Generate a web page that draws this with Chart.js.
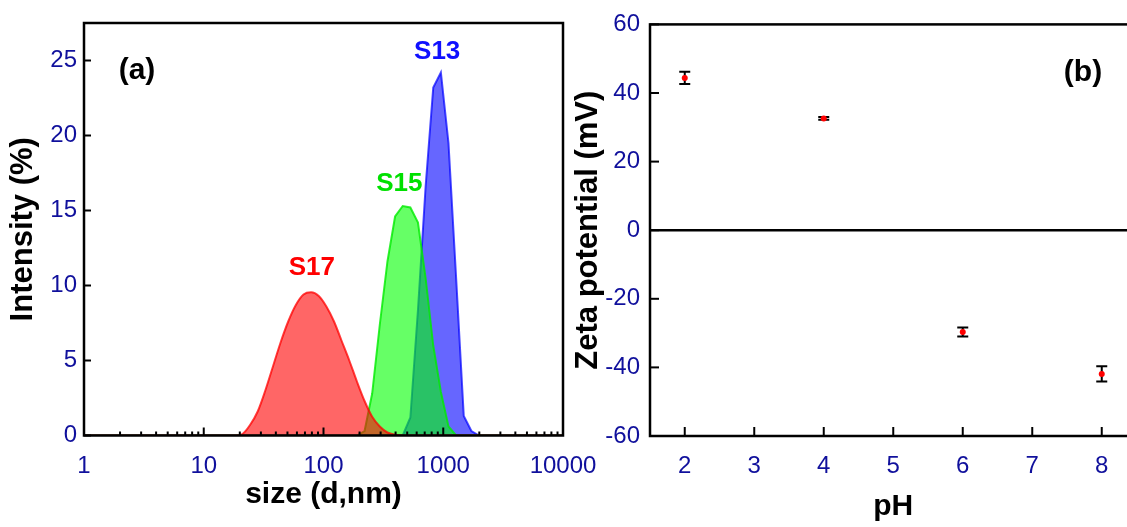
<!DOCTYPE html>
<html>
<head>
<meta charset="utf-8">
<script src="https://cdn.jsdelivr.net/npm/chart.js@4.4.0/dist/chart.umd.min.js"></script>
<style>
html, body { margin:0; padding:0; background:#fff; overflow:hidden; }
#wrap { position:relative; width:1127px; height:527px; overflow:hidden; background:#fff; }
#chartTamanho { position:absolute; left:0; top:0; }
#chartZeta { position:absolute; left:560px; top:0; }
</style>
</head>
<body>
<div id="wrap">
<canvas id="chartTamanho" width="613" height="527"></canvas>
<canvas id="chartZeta" width="590" height="527"></canvas>
</div>
<script>
// (a) tamanho (DLS, intensidade)
var s17Size = [1, 18.17, 21.04, 24.36, 28.21, 32.67, 37.84, 43.82, 50.75, 58.77, 68.06, 78.82, 91.28, 105.7, 122.4, 141.8, 164.2, 190.1, 220.2, 255.0, 295.3, 342.0, 396.1, 458.7, 10000];
var s17Int  = [0, 0, 0.1, 0.7, 1.6, 3.0, 4.6, 6.2, 7.6, 8.7, 9.4, 9.55, 9.3, 8.6, 7.6, 6.3, 5.0, 3.6, 2.3, 1.25, 0.6, 0.2, 0.05, 0, 0];
var s15Size = [1, 190.1, 220.2, 255.0, 295.3, 342.0, 396.1, 458.7, 531.2, 615.1, 712.4, 825.0, 955.4, 1106, 1281, 10000];
var s15Int  = [0, 0, 0.3, 2.8, 7.4, 11.6, 14.6, 15.3, 15.2, 14.2, 10.5, 6.0, 2.9, 0.6, 0, 0];
var s13Size = [1, 458.7, 531.2, 615.1, 712.4, 825.0, 955.4, 1106, 1281, 1484, 1718, 1990, 10000];
var s13Int  = [0, 0, 1.2, 8.4, 16.6, 23.2, 24.2, 19.5, 10.5, 1.3, 0.3, 0, 0];
var sizeTicks = [1, 10, 100, 1000, 10000];
var intTicks = [0, 5, 10, 15, 20, 25];

// (b) potencial zeta
var pH = [2, 4, 6, 8];
var zeta = [44.4, 32.6, -29.7, -41.9];
var zetaErr = [1.8, 0.4, 1.3, 2.2];
var pHTicks = [2, 3, 4, 5, 6, 7, 8];
var zetaTicks = [-60, -40, -20, 0, 20, 40, 60];

var azul = '#10109c';
var fonte = "'Liberation Sans', Arial, sans-serif";
Chart.defaults.font.family = fonte;

function pontos(xs, ys) {
    return xs.map(function (x, i) { return { x: x, y: ys[i] }; });
}

var moldura = {
    id: 'moldura',
    afterDatasetsDraw: function (chart, args, opts) {
        var ctx = chart.ctx, a = chart.chartArea;
        var sx = chart.scales.x, sy = chart.scales.y;
        ctx.save();
        ctx.strokeStyle = '#000';
        ctx.lineWidth = 2;
        (opts.xTicks || []).forEach(function (t) {
            var px = sx.getPixelForValue(t[0]);
            ctx.beginPath(); ctx.moveTo(px, a.bottom); ctx.lineTo(px, a.bottom - t[1]); ctx.stroke();
        });
        (opts.yTicks || []).forEach(function (t) {
            var py = sy.getPixelForValue(t[0]);
            ctx.beginPath(); ctx.moveTo(a.left, py); ctx.lineTo(a.left + t[1], py); ctx.stroke();
        });
        if (opts.zeroLine) {
            var pz = sy.getPixelForValue(0);
            ctx.lineWidth = 2.5;
            ctx.beginPath(); ctx.moveTo(a.left, pz); ctx.lineTo(a.right, pz); ctx.stroke();
        }
        ctx.lineWidth = 2.5;
        ctx.strokeRect(a.left, a.top, a.right - a.left, a.bottom - a.top);
        ctx.restore();
    }
};

var rotulos = {
    id: 'rotulos',
    afterDraw: function (chart, args, opts) {
        var ctx = chart.ctx;
        ctx.save();
        ctx.textAlign = 'center';
        ctx.textBaseline = 'middle';
        (opts.items || []).forEach(function (r) {
            ctx.fillStyle = r.color;
            ctx.font = r.font;
            ctx.fillText(r.text, chart.scales.x.getPixelForValue(r.x), chart.scales.y.getPixelForValue(r.y));
        });
        ctx.restore();
    }
};

var barrasErro = {
    id: 'barrasErro',
    beforeDatasetsDraw: function (chart) {
        var ctx = chart.ctx, sx = chart.scales.x, sy = chart.scales.y;
        ctx.save();
        ctx.strokeStyle = '#000';
        ctx.lineWidth = 2;
        chart.data.datasets.forEach(function (ds) {
            if (!ds.errors) return;
            ds.data.forEach(function (p, i) {
                var px = sx.getPixelForValue(p.x);
                var y1 = sy.getPixelForValue(p.y + ds.errors[i]);
                var y2 = sy.getPixelForValue(p.y - ds.errors[i]);
                ctx.beginPath();
                ctx.moveTo(px, y1); ctx.lineTo(px, y2);
                ctx.moveTo(px - 5.5, y1); ctx.lineTo(px + 5.5, y1);
                ctx.moveTo(px - 5.5, y2); ctx.lineTo(px + 5.5, y2);
                ctx.stroke();
            });
        });
        ctx.restore();
    }
};

// marcas menores do eixo log
var marcasA = [];
[1, 10, 100, 1000].forEach(function (d) {
    for (var k = 2; k <= 9; k++) marcasA.push([d * k, 4]);
    if (d > 1) marcasA.push([d, 8]);
});

new Chart(document.getElementById('chartTamanho'), {
    type: 'line',
    data: {
        datasets: [
            { label: 'S17', data: pontos(s17Size, s17Int), fill: 'origin', backgroundColor: 'rgba(255,0,0,0.6)', borderColor: 'rgba(255,0,0,0.75)', borderWidth: 2, pointRadius: 0, cubicInterpolationMode: 'monotone' },
            { label: 'S15', data: pontos(s15Size, s15Int), fill: 'origin', backgroundColor: 'rgba(0,255,0,0.6)', borderColor: 'rgba(0,235,0,0.8)', borderWidth: 2, pointRadius: 0, tension: 0 },
            { label: 'S13', data: pontos(s13Size, s13Int), fill: 'origin', backgroundColor: 'rgba(0,0,255,0.6)', borderColor: 'rgba(0,0,255,0.7)', borderWidth: 2, pointRadius: 0, tension: 0 }
        ]
    },
    options: {
        responsive: false,
        animation: false,
        layout: { padding: { top: 23, right: 50, left: 0, bottom: 0 } },
        plugins: {
            legend: { display: false },
            tooltip: { enabled: false },
            moldura: { xTicks: marcasA, yTicks: intTicks.map(function (v) { return [v, 7]; }) },
            rotulos: { items: [
                { text: '(a)', x: 2.77, y: 24.3, color: '#000', font: 'bold 30px ' + fonte },
                { text: 'S17', x: 80, y: 11.2, color: '#ff0000', font: 'bold 26px ' + fonte },
                { text: 'S15', x: 430, y: 16.8, color: '#00e000', font: 'bold 26px ' + fonte },
                { text: 'S13', x: 890, y: 25.6, color: '#1010ff', font: 'bold 26px ' + fonte }
            ] }
        },
        scales: {
            x: {
                type: 'logarithmic', min: 1, max: 10000,
                grid: { display: false, drawTicks: false },
                border: { display: false },
                afterBuildTicks: function (s) { s.ticks = sizeTicks.map(function (v) { return { value: v }; }); },
                afterFit: function (s) { s.height = 91.5; },
                ticks: { color: azul, font: { size: 24 }, padding: 16, autoSkip: false, maxRotation: 0,
                    callback: function (v) { return String(v); } },
                title: { display: true, text: 'size (d,nm)', color: '#000', font: { size: 30, weight: 'bold' }, padding: { top: 0, bottom: 14 } }
            },
            y: {
                min: 0, max: 27.5,
                grid: { display: false, drawTicks: false },
                border: { display: false },
                afterBuildTicks: function (s) { s.ticks = intTicks.map(function (v) { return { value: v }; }); },
                afterFit: function (s) { s.width = 84; },
                ticks: { color: azul, font: { size: 24 }, padding: 7 },
                title: { display: true, text: 'Intensity (%)', color: '#000', font: { size: 31, weight: 'bold' }, padding: { top: 5, bottom: 0 } }
            }
        }
    },
    plugins: [moldura, rotulos]
});

new Chart(document.getElementById('chartZeta'), {
    type: 'scatter',
    data: {
        datasets: [
            { label: 'Zeta', data: pontos(pH, zeta), errors: zetaErr, backgroundColor: '#ff0000', borderWidth: 0, pointRadius: 3, showLine: false }
        ]
    },
    options: {
        responsive: false,
        animation: false,
        layout: { padding: { top: 23, right: 13.5, left: 0, bottom: 0 } },
        plugins: {
            legend: { display: false },
            tooltip: { enabled: false },
            moldura: { xTicks: pHTicks.map(function (v) { return [v, 9]; }), yTicks: zetaTicks.map(function (v) { return [v, 9]; }), zeroLine: true },
            rotulos: { items: [
                { text: '(b)', x: 7.73, y: 46, color: '#000', font: 'bold 30px ' + fonte }
            ] }
        },
        scales: {
            x: {
                type: 'linear', min: 1.5, max: 8.5,
                grid: { display: false, drawTicks: false },
                border: { display: false },
                afterBuildTicks: function (s) { s.ticks = pHTicks.map(function (v) { return { value: v }; }); },
                afterFit: function (s) { s.height = 91; },
                ticks: { color: azul, font: { size: 24 }, padding: 16, autoSkip: false, maxRotation: 0 },
                title: { display: true, text: 'pH', color: '#000', font: { size: 30, weight: 'bold' }, padding: { top: 0, bottom: 2 } }
            },
            y: {
                min: -60, max: 60,
                grid: { display: false, drawTicks: false },
                border: { display: false },
                afterBuildTicks: function (s) { s.ticks = zetaTicks.map(function (v) { return { value: v }; }); },
                afterFit: function (s) { s.width = 90; },
                ticks: { color: azul, font: { size: 24 }, padding: 10 },
                title: { display: true, text: 'Zeta potential (mV)', color: '#000', font: { size: 31, weight: 'bold' }, padding: { top: 10, bottom: 0 } }
            }
        }
    },
    plugins: [barrasErro, moldura, rotulos]
});
</script>
</body>
</html>
